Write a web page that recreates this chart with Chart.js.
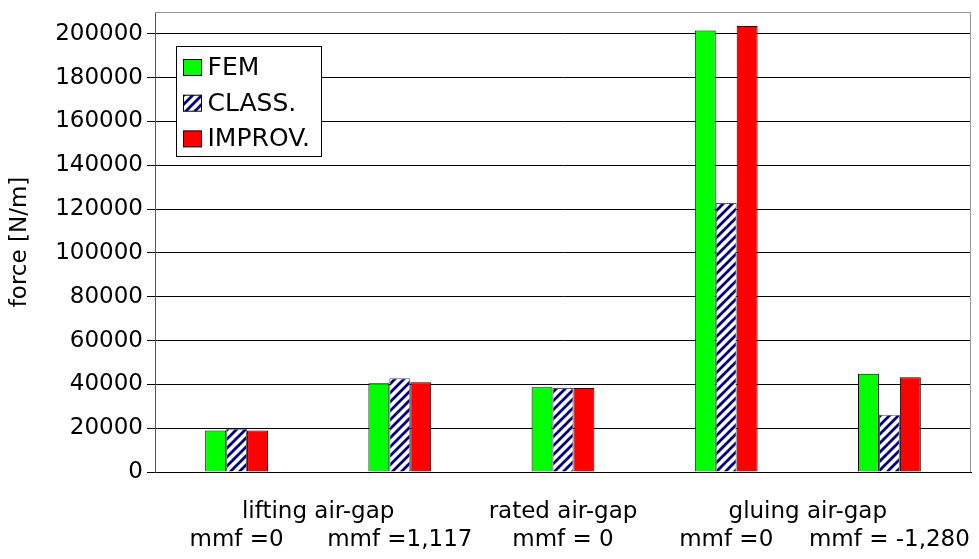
<!DOCTYPE html>
<html>
<head>
<meta charset="utf-8">
<script src="https://cdn.jsdelivr.net/npm/chart.js@4.4.1/dist/chart.umd.min.js"></script>
<style>
  html, body { margin: 0; padding: 0; background: #fff; }
  #wrap { width: 979px; height: 559px; position: relative; }
</style>
</head>
<body>
<div id="wrap"><canvas id="c" width="979" height="559"></canvas></div>
<script>
// ---- data ----
const mmfLabels = ["mmf =0", "mmf =1,117", "mmf = 0", "mmf =0", "mmf = -1,280"];
const groupLabels = ["lifting air-gap", "rated air-gap", "gluing air-gap"];
const groupFirst = [0, 2, 3];
const groupLast = [1, 2, 4];
const seriesNames = ["FEM", "CLASS.", "IMPROV."];
const femValues = [18900, 40500, 38700, 201500, 44800];
const classValues = [19800, 42800, 38400, 122800, 26100];
const improvValues = [18900, 41000, 38300, 203600, 43300];
const yTickValues = [0, 20000, 40000, 60000, 80000, 100000, 120000, 140000, 160000, 180000, 200000];
const yMin = 0, yMax = 210000;
const yTitle = "force [N/m]";

const FONT = "'DejaVu Sans', 'Liberation Sans', sans-serif";

// diagonal stripe pattern for CLASS.
function makeStripes() {
  const s = 9;
  const pc = document.createElement('canvas');
  pc.width = s; pc.height = s;
  const g = pc.getContext('2d');
  g.fillStyle = '#ffffff';
  g.fillRect(0, 0, s, s);
  g.strokeStyle = '#000080';
  g.lineWidth = 2.8;
  g.beginPath();
  g.moveTo(-s, 2 * s); g.lineTo(2 * s, -s);
  g.moveTo(-s, s); g.lineTo(s, -s);
  g.moveTo(0, 2 * s); g.lineTo(2 * s, 0);
  g.stroke();
  return g.createPattern(pc, 'repeat');
}
const stripes = makeStripes();

const fills = ['#00ff00', stripes, '#ff0000'];

const frameAndLabels = {
  id: 'frameAndLabels',
  afterDraw(chart) {
    const ctx = chart.ctx;
    const a = chart.chartArea;
    ctx.save();
    // plot frame (top + right)
    ctx.strokeStyle = '#9a9a9a';
    ctx.lineWidth = 1;
    ctx.beginPath();
    ctx.moveTo(a.left, a.top + 0.5);
    ctx.lineTo(a.right - 0.5, a.top + 0.5);
    ctx.lineTo(a.right - 0.5, a.bottom);
    ctx.stroke();
    // group labels
    const xs = chart.scales.x;
    ctx.fillStyle = '#000';
    ctx.font = '23px ' + FONT;
    ctx.textAlign = 'center';
    ctx.textBaseline = 'middle';
    groupLabels.forEach((t, i) => {
      const x = (xs.getPixelForValue(groupFirst[i]) + xs.getPixelForValue(groupLast[i])) / 2;
      ctx.fillText(t, x, a.bottom + 40);
    });
    // legend
    const lx = 176.5, ly = 46.5, lw = 145, lh = 110;
    ctx.fillStyle = '#fff';
    ctx.fillRect(lx, ly, lw, lh);
    ctx.strokeStyle = '#000';
    ctx.strokeRect(lx, ly, lw, lh);
    ctx.textAlign = 'left';
    ctx.font = '25px ' + FONT;
    seriesNames.forEach((n, i) => {
      const cy = ly + 21 + i * 35.7;
      ctx.fillStyle = fills[i];
      ctx.fillRect(lx + 7, cy - 8, 18, 16);
      ctx.strokeStyle = '#000';
      ctx.strokeRect(lx + 7, cy - 8, 18, 16);
      ctx.fillStyle = '#000';
      ctx.fillText(n, lx + 31, cy + 1);
    });
    ctx.restore();
  }
};

new Chart(document.getElementById('c'), {
  type: 'bar',
  data: {
    labels: mmfLabels,
    datasets: [
      { label: seriesNames[0], data: femValues, backgroundColor: fills[0], borderColor: '#000', borderWidth: 1 },
      { label: seriesNames[1], data: classValues, backgroundColor: fills[1], borderColor: '#555', borderWidth: 1 },
      { label: seriesNames[2], data: improvValues, backgroundColor: fills[2], borderColor: '#000', borderWidth: 1 }
    ]
  },
  options: {
    responsive: false,
    animation: false,
    devicePixelRatio: 1,
    layout: { padding: { top: 12, right: 8, left: 0, bottom: 0 } },
    datasets: { bar: { barPercentage: 1.0, categoryPercentage: 0.385 } },
    plugins: { legend: { display: false }, tooltip: { enabled: false }, title: { display: false } },
    scales: {
      x: {
        grid: { display: false, drawTicks: false },
        border: { display: true, color: '#000', width: 1 },
        ticks: { color: '#000', font: { family: FONT, size: 23 }, padding: 54, maxRotation: 0, autoSkip: false },
        afterFit(s) { s.height = 87; s.paddingLeft = 0; s.paddingRight = 0; }
      },
      y: {
        min: yMin, max: yMax,
        afterBuildTicks(s) { s.ticks = yTickValues.map(v => ({ value: v })); },
        grid: { color: '#000', lineWidth: 1, tickLength: 8, drawTicks: true, tickColor: '#000' },
        border: { display: true, color: '#555', width: 1 },
        ticks: { color: '#000', font: { family: FONT, size: 23 }, padding: 4, autoSkip: false, callback: v => String(v) },
        title: { display: true, text: yTitle, color: '#000', font: { family: FONT, size: 23 }, padding: { top: 6, bottom: 4 } },
        afterFit(s) { s.width = 155; s.paddingTop = 0; s.paddingBottom = 0; }
      }
    }
  },
  plugins: [frameAndLabels]
});
</script>
</body>
</html>
